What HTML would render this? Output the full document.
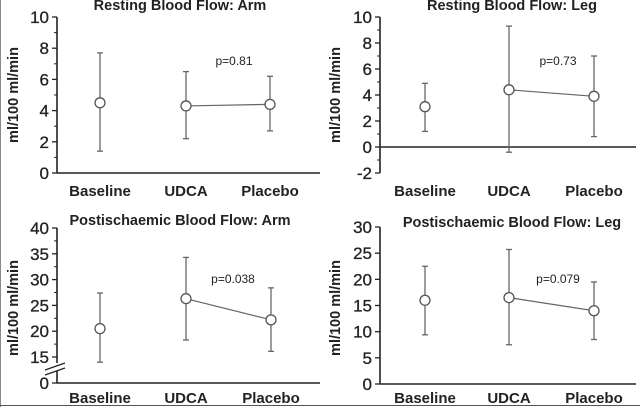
<!DOCTYPE html>
<html><head><meta charset="utf-8"><style>
html,body{margin:0;padding:0;background:#fff;}
svg{display:block;font-family:"Liberation Sans",Arial,sans-serif;}
</style></head><body>
<svg id="chart" width="640" height="407" viewBox="0 0 640 407">
<rect x="0" y="0" width="640" height="407" fill="#fff"/>
<line x1="0.5" y1="0" x2="0.5" y2="407" stroke="#888"/>
<line x1="0" y1="405.5" x2="640" y2="405.5" stroke="#555"/>
</svg>
<script>
const categories = ["Baseline", "UDCA", "Placebo"];
const armRestMean = [4.5, 4.3, 4.4];
const armRestLow = [1.4, 2.2, 2.7];
const armRestHigh = [7.7, 6.5, 6.2];
const legRestMean = [3.1, 4.4, 3.9];
const legRestLow = [1.2, -0.4, 0.8];
const legRestHigh = [4.9, 9.3, 7.0];
const armPostMean = [20.5, 26.3, 22.2];
const armPostLow = [14.0, 18.3, 16.1];
const armPostHigh = [27.4, 34.3, 28.4];
const legPostMean = [16.0, 16.5, 14.0];
const legPostLow = [9.4, 7.5, 8.5];
const legPostHigh = [22.5, 25.7, 19.5];
const armRestTicks = [0, 2, 4, 6, 8, 10];
const legRestTicks = [-2, 0, 2, 4, 6, 8, 10];
const armPostTicks = [0, 15, 20, 25, 30, 35, 40];
const legPostTicks = [0, 5, 10, 15, 20, 25, 30];
const pLabels = ["p=0.81", "p=0.73", "p=0.038", "p=0.079"];
const titles = ["Resting Blood Flow: Arm", "Resting Blood Flow: Leg", "Postischaemic Blood Flow: Arm", "Postischaemic Blood Flow: Leg"];

const svg = document.getElementById('chart');
const NS = 'http://www.w3.org/2000/svg';
function mk(tag, attrs, parent) {
  const e = document.createElementNS(NS, tag);
  for (const k in attrs) e.setAttribute(k, attrs[k]);
  (parent || svg).appendChild(e);
  return e;
}

function panel(cfg) {
  const g = mk('g', {});
  
  
  const y = cfg.yScale;
  const xs = i => cfg.catX[i];
  const t = mk('text', {x: cfg.titleX, y: cfg.titleY, 'text-anchor': 'middle', 'font-size': 14.5, 'font-weight': 'bold', fill: '#222'}, g);
  t.textContent = cfg.title;
  
  
  const ya = mk('line', {x1: cfg.axisX, y1: cfg.yTop, x2: cfg.axisX, y2: cfg.yBottom, stroke: '#222', 'stroke-width': 1.6}, g);
  
  
  const xa = mk('line', {x1: cfg.axisX, y1: y(cfg.xAxisAt), x2: cfg.xEnd, y2: y(cfg.xAxisAt), stroke: '#222', 'stroke-width': 1.6}, g);
  
  
  cfg.ticks.forEach((v, i) => {
    const ty = y(v);
    mk('line', {x1: cfg.axisX - 5, y1: ty, x2: cfg.axisX, y2: ty, stroke: '#222', 'stroke-width': 1.3}, g);
    const lb = mk('text', {x: cfg.axisX - 8, y: ty + 6, 'text-anchor': 'end', 'font-size': 17, fill: '#222', stroke: '#222', 'stroke-width': 0.3}, g);
    lb.textContent = v;
    
    
    if (cfg.minor && i < cfg.ticks.length - 1 && !(cfg.brk && i === 0)) {
      const my = y((v + cfg.ticks[i + 1]) / 2);
      mk('line', {x1: cfg.axisX - 3, y1: my, x2: cfg.axisX, y2: my, stroke: '#222', 'stroke-width': 1}, g);
    }
  });
  if (cfg.brk) {
    mk('rect', {x: cfg.axisX - 12, y: cfg.brkY - 5, width: 20, height: 8, fill: '#fff'}, g);
    const b1 = mk('line', {x1: cfg.axisX - 12, y1: cfg.brkY + 2, x2: cfg.axisX + 8, y2: cfg.brkY - 5, stroke: '#222', 'stroke-width': 1.3}, g);
    
    
    mk('line', {x1: cfg.axisX - 12, y1: cfg.brkY + 7, x2: cfg.axisX + 8, y2: cfg.brkY, stroke: '#222', 'stroke-width': 1.3}, g);
  }
  const yt = mk('text', {x: 0, y: 0, 'text-anchor': 'middle', 'font-size': 14.5, 'font-weight': 'bold', fill: '#222', transform: `translate(${cfg.yTitleX},${cfg.yTitleY}) rotate(-90)`}, g);
  yt.textContent = 'ml/100 ml/min';
  
  
  categories.forEach((c, i) => {
    const cl = mk('text', {x: xs(i), y: cfg.catY, 'text-anchor': 'middle', 'font-size': 15, 'font-weight': 'bold', fill: '#222'}, g);
    cl.textContent = c;
    
    
  });
  const ln = mk('line', {x1: xs(1), y1: y(cfg.mean[1]), x2: xs(2), y2: y(cfg.mean[2]), stroke: '#666', 'stroke-width': 1.2}, g);
  
  
  cfg.mean.forEach((m, i) => {
    const eb = mk('line', {x1: xs(i), y1: y(cfg.low[i]), x2: xs(i), y2: y(cfg.high[i]), stroke: '#666', 'stroke-width': 1.3}, g);
    
    
    mk('line', {x1: xs(i) - 3, y1: y(cfg.low[i]), x2: xs(i) + 3, y2: y(cfg.low[i]), stroke: '#666', 'stroke-width': 1.3}, g);
    mk('line', {x1: xs(i) - 3, y1: y(cfg.high[i]), x2: xs(i) + 3, y2: y(cfg.high[i]), stroke: '#666', 'stroke-width': 1.3}, g);
    const pt = mk('circle', {cx: xs(i), cy: y(m), r: 5, fill: '#fff', stroke: '#555', 'stroke-width': 1.3}, g);
    
    
  });
  const pl = mk('text', {x: cfg.pX, y: cfg.pY, 'text-anchor': 'middle', 'font-size': 12, fill: '#222'}, g);
  pl.textContent = cfg.p;
  
  
}

function lin(v0, p0, v1, p1) { return v => p0 + (v - v0) * (p1 - p0) / (v1 - v0); }

panel({name: 'panel-resting-arm', title: titles[0], titleX: 180, titleY: 10,
  yScale: lin(0, 173, 10, 17), ticks: armRestTicks, minor: true, axisX: 57, yTop: 17, yBottom: 173, xAxisAt: 0, xEnd: 320,
  catX: [100, 186, 270], catY: 196, yTitleX: 18, yTitleY: 95,
  mean: armRestMean, low: armRestLow, high: armRestHigh, p: pLabels[0], pX: 234, pY: 65});
panel({name: 'panel-resting-leg', title: titles[1], titleX: 512, titleY: 10,
  yScale: lin(0, 147, 10, 17), ticks: legRestTicks, minor: true, axisX: 380, yTop: 17, yBottom: 173, xAxisAt: 0, xEnd: 636,
  catX: [425, 509, 594], catY: 196, yTitleX: 340, yTitleY: 95,
  mean: legRestMean, low: legRestLow, high: legRestHigh, p: pLabels[1], pX: 558, pY: 65});
const ps3 = lin(15, 357, 40, 228);
panel({name: 'panel-postischaemic-arm', title: titles[2], titleX: 180, titleY: 225,
  yScale: v => v === 0 ? 383 : ps3(v), ticks: armPostTicks, minor: true, brk: true, brkY: 368, axisX: 57, yTop: 228, yBottom: 383, xAxisAt: 0, xEnd: 320,
  catX: [100, 186, 271], catY: 403, yTitleX: 18, yTitleY: 308,
  mean: armPostMean, low: armPostLow, high: armPostHigh, p: pLabels[2], pX: 233, pY: 283});
panel({name: 'panel-postischaemic-leg', title: titles[3], titleX: 512, titleY: 227,
  yScale: lin(0, 384, 30, 227), ticks: legPostTicks, minor: false, axisX: 380, yTop: 227, yBottom: 384, xAxisAt: 0, xEnd: 636,
  catX: [425, 509, 594], catY: 403, yTitleX: 340, yTitleY: 308,
  mean: legPostMean, low: legPostLow, high: legPostHigh, p: pLabels[3], pX: 558, pY: 283});
</script>
</body></html>
